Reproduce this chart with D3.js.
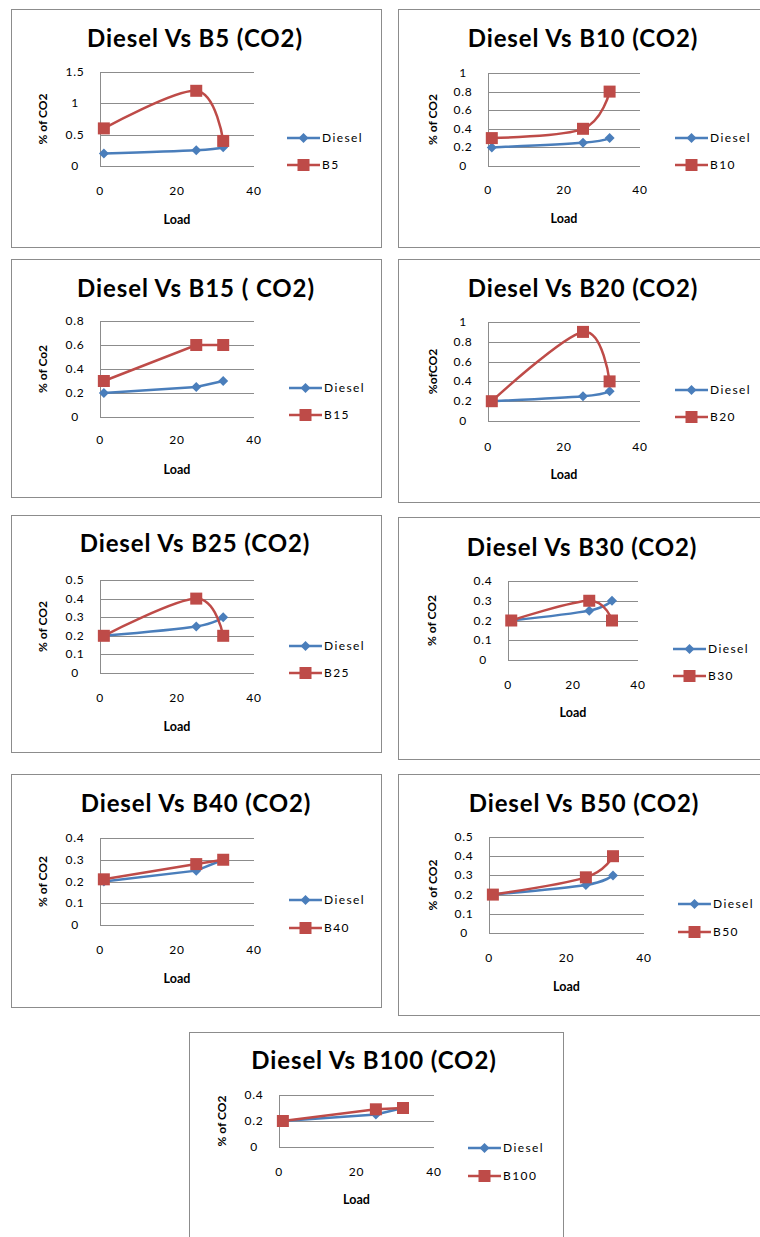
<!DOCTYPE html>
<html>
<head>
<meta charset="utf-8">
<script src="https://cdn.jsdelivr.net/npm/d3@7"></script>
<style>
  body { margin: 0; background: #fff; }
  svg { display: block; }
</style>
</head>
<body>
<svg id="chart" width="760" height="1237"></svg>
<script>
// data
const loads = [1, 25, 32];
const xTicks = [0, 20, 40];
const diesel = [0.2, 0.25, 0.3];
const blendNames = ["B5", "B10", "B15", "B20", "B25", "B30", "B40", "B50", "B100"];
const blendValues = [
    [0.6, 1.2, 0.4],
    [0.3, 0.4, 0.8],
    [0.3, 0.6, 0.6],
    [0.2, 0.9, 0.4],
    [0.2, 0.4, 0.2],
    [0.2, 0.3, 0.2],
    [0.21, 0.28, 0.3],
    [0.2, 0.29, 0.4],
    [0.2, 0.29, 0.3]
];
const titles = [
    "Diesel Vs B5 (CO2)", "Diesel Vs B10 (CO2)", "Diesel Vs B15 ( CO2)",
    "Diesel Vs B20 (CO2)", "Diesel Vs B25 (CO2)", "Diesel Vs B30 (CO2)",
    "Diesel Vs B40 (CO2)", "Diesel Vs B50 (CO2)", "Diesel Vs B100 (CO2)"
];
const yLabels = ["% of CO2", "% of CO2", "% of Co2", "%ofCO2", "% of CO2", "% of CO2", "% of  CO2", "% of CO2", "% of CO2"];
const yMax = [1.5, 1, 0.8, 1, 0.5, 0.4, 0.4, 0.5, 0.4];
const yStep = [0.5, 0.2, 0.2, 0.2, 0.1, 0.1, 0.1, 0.1, 0.2];
const smooth = [true, true, false, true, true, true, false, true, false];

// panel layout (pixels)
const panels = [
    {box: [11, 9, 370, 238],    plot: [100, 254, 72, 166],   xlab: 191,  load: 220,  title: [195, 38],   leg: [287, 138, 165], ylab: 43},
    {box: [398, 9, 370, 238],   plot: [488, 640, 73, 166],   xlab: 190,  load: 219,  title: [583, 38],   leg: [675, 138, 165], ylab: 433},
    {box: [11, 259, 370, 238],  plot: [100, 254, 321, 417],  xlab: 440,  load: 470,  title: [196, 288],  leg: [289, 388, 415], ylab: 43},
    {box: [398, 259, 370, 243], plot: [488, 640, 322, 421],  xlab: 447,  load: 475,  title: [583, 288],  leg: [675, 390, 417], ylab: 433},
    {box: [11, 515, 370, 237],  plot: [100, 254, 580, 673],  xlab: 698,  load: 727,  title: [195, 543],  leg: [289, 646, 673], ylab: 43},
    {box: [398, 517, 370, 242], plot: [508, 638, 581, 660],  xlab: 685,  load: 713,  title: [582, 547],  leg: [673, 649, 676], ylab: 432},
    {box: [11, 774, 370, 233],  plot: [100, 254, 838, 925],  xlab: 950,  load: 979,  title: [196, 803],  leg: [289, 900, 928], ylab: 43},
    {box: [398, 774, 370, 241], plot: [489, 644, 837, 933],  xlab: 958,  load: 987,  title: [584, 803],  leg: [678, 904, 932], ylab: 433},
    {box: [189, 1032, 374, 220], plot: [279, 434, 1095, 1147], xlab: 1172, load: 1200, title: [374, 1060], leg: [468, 1148, 1176], ylab: 222}
];

const blue = "#4a7ebb";
const red = "#be4b48";
const font = "Lato, 'Open Sans', sans-serif";

const svg = d3.select("#chart");

function drawMarker(g, kind, color, x, y) {
    if (kind === "diamond") {
        g.append("path")
            .attr("d", `M${x},${y - 5}L${x + 5},${y}L${x},${y + 5}L${x - 5},${y}Z`)
            .attr("fill", color);
    } else {
        g.append("rect")
            .attr("x", x - 6).attr("y", y - 6)
            .attr("width", 12).attr("height", 12)
            .attr("fill", color);
    }
}

panels.forEach((p, i) => {
    const g = svg.append("g");
    const [bx, by, bw, bh] = p.box;
    const [pl, pr, pt, pb] = p.plot;

    g.append("rect")
        .attr("x", bx + 0.5).attr("y", by + 0.5)
        .attr("width", bw).attr("height", bh)
        .attr("fill", "#fff").attr("stroke", "#8c8c8c");

    const x = d3.scaleLinear().domain([0, 40]).range([pl, pr]);
    const y = d3.scaleLinear().domain([0, yMax[i]]).range([pb, pt]);
    const yTicks = d3.range(0, yMax[i] + 1e-9, yStep[i]);

    // gridlines
    g.append("g")
        .selectAll("line")
        .data(yTicks)
        .join("line")
        .attr("x1", pl).attr("x2", pr)
        .attr("y1", d => Math.round(y(d)) + 0.5)
        .attr("y2", d => Math.round(y(d)) + 0.5)
        .attr("stroke", "#8c8c8c");
    g.append("line")
        .attr("x1", pl + 0.5).attr("x2", pl + 0.5)
        .attr("y1", pt).attr("y2", pb)
        .attr("stroke", "#8c8c8c");

    // tick labels
    g.append("g")
        .selectAll("text")
        .data(yTicks)
        .join("text")
        .attr("x", pl - 25)
        .attr("y", d => y(d) + 4)
        .attr("text-anchor", "middle")
        .style("font", `12px ${font}`)
        .style("letter-spacing", "0.7px")
        .text(d => d3.format("~g")(+d.toFixed(2)));
    g.append("g")
        .selectAll("text")
        .data(xTicks)
        .join("text")
        .attr("x", d => x(d))
        .attr("y", p.xlab + 4)
        .attr("text-anchor", "middle")
        .style("font", `12px ${font}`)
        .style("letter-spacing", "0.7px")
        .text(d => d);

    // axis titles
    g.append("text")
        .attr("x", (pl + pr) / 2)
        .attr("y", p.load + 4)
        .attr("text-anchor", "middle")
        .style("font", `bold 12.5px ${font}`)
        .text("Load");
    g.append("text")
        .attr("transform", `translate(${p.ylab + 4},${(pt + pb) / 2}) rotate(-90)`)
        .attr("text-anchor", "middle")
        .style("font", `bold 12px ${font}`)
        .text(yLabels[i]);

    // chart title
    g.append("text")
        .attr("x", p.title[0])
        .attr("y", p.title[1] + 8.5)
        .attr("text-anchor", "middle")
        .style("font", `bold 24px ${font}`)
        .style("letter-spacing", "0.9px")
        .text(titles[i]);

    // series
    const line = d3.line()
        .x(d => x(d[0]))
        .y(d => y(d[1]))
        .curve(smooth[i] ? d3.curveCardinal.tension(0) : d3.curveLinear);

    const series = [
        {vals: diesel, color: blue, kind: "diamond"},
        {vals: blendValues[i], color: red, kind: "square"}
    ];
    series.forEach(s => {
        const pts = loads.map((l, j) => [l, s.vals[j]]);
        g.append("path")
            .attr("d", line(pts))
            .attr("fill", "none")
            .attr("stroke", s.color)
            .attr("stroke-width", 2.5);
        pts.forEach(pt => drawMarker(g, s.kind, s.color, x(pt[0]), y(pt[1])));
    });

    // legend
    const names = ["Diesel", blendNames[i]];
    series.forEach((s, k) => {
        const ly = p.leg[1 + k];
        const lx = p.leg[0];
        g.append("line")
            .attr("x1", lx).attr("x2", lx + 33)
            .attr("y1", ly).attr("y2", ly)
            .attr("stroke", s.color).attr("stroke-width", 2.5);
        drawMarker(g, s.kind, s.color, lx + 16.5, ly);
        g.append("text")
            .attr("x", lx + 35)
            .attr("y", ly + 4)
            .style("font", `12px ${font}`)
            .style("letter-spacing", "1.4px")
            .text(names[k]);
    });
});
</script>
</body>
</html>
